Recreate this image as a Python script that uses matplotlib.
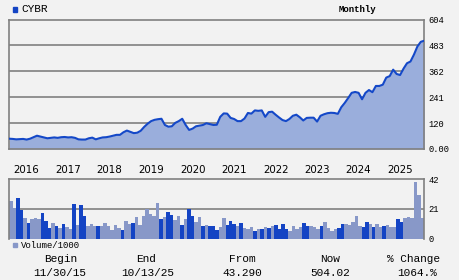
import matplotlib
matplotlib.use("Agg")
import matplotlib.pyplot as plt
from matplotlib.patches import Rectangle

# ---------------- data ----------------
ticker = "CYBR"
price = [48, 47, 45, 46, 47, 44, 48, 55, 62, 58, 54, 50, 52, 54, 52, 55, 56, 54, 55, 52,
         45, 44, 44, 50, 53, 45, 50, 54, 55, 58, 62, 66, 66, 78, 86, 80, 74, 76, 85, 103,
         118, 130, 136, 139, 141, 112, 104, 106, 122, 130, 141, 112, 89, 95, 106, 109, 112, 120, 116, 112,
         113, 150, 166, 165, 145, 140, 130, 130, 142, 168, 165, 180, 178, 180, 150, 172, 174, 160, 147, 135,
         130, 140, 155, 160, 148, 133, 145, 146, 146, 128, 155, 162, 167, 169, 168, 164, 195, 215, 238, 262,
         266, 262, 232, 262, 275, 265, 294, 294, 300, 333, 340, 370, 350, 345, 375, 400, 408, 440, 478, 500,
         505]
volume = [26.7, 21.7, 28.8, 20.3, 14.6, 11.1, 13.9, 14.9, 13.9, 18.2, 12.5, 7.5, 11.1, 9.0, 7.5, 10.4,
          8.3, 6.8, 24.5, 9.7, 23.8, 16.0, 9.0, 10.4, 9.0, 9.0, 9.0, 11.1, 9.0, 6.1, 9.7, 7.5, 6.1,
          12.5, 10.4, 11.1, 15.3, 9.7, 16.0, 21.0, 17.5, 16.0, 25.2, 13.9, 15.3, 18.9, 16.7, 13.2, 16.0,
          9.7, 13.9, 21.0, 16.0, 11.8, 15.3, 9.0, 9.7, 9.0, 9.0, 6.1, 8.3, 14.6, 9.7, 12.5, 10.4, 9.0,
          11.1, 7.5, 6.8, 8.3, 5.4, 6.8, 6.8, 8.3, 7.5, 9.0, 9.7, 6.8, 10.4, 6.8, 5.4, 9.0, 6.8, 8.3,
          11.1, 9.0, 9.0, 8.3, 6.8, 9.0, 11.8, 7.5, 5.4, 6.8, 7.5, 10.4, 10.4, 9.7, 11.8, 16.0, 9.0,
          8.3, 11.8, 10.4, 8.3, 10.4, 8.3, 9.0, 9.7, 8.3, 8.3, 13.9, 11.8, 14.6, 15.3, 14.4, 40.1, 30.9, 14.6]
# d = up month (dark bar), l = down month (light bar)
vol_dir = ("llddldlllddd" "ldldlldldd"
           "lll" "d" "llllll" "d" "ll" "d" "lllllll" "d" "l" "dd" "ll" "d" "l" "dd"
           "ll" "d" "l" "ddd" "ll" "ddd" "l" "d" "lll" "d" "l" "d" "l" "d" "l" "dddd" "llll" "dd"
           "lll" "d" "llll" "dd" "lllll" "dd" "l" "d" "ll" "d" "lll" "dd" "llllll")
year_labels = ["2016", "2017", "2018", "2019", "2020", "2021", "2022", "2023", "2024", "2025"]
year_pos = [5, 17, 29, 41, 53, 65, 77, 89, 101, 113]
price_ticks = [0, 120.8, 241.6, 362.4, 483.2, 604]
price_tick_labels = ["0.00", "120", "241", "362", "483", "604"]
vol_ticks = [0, 21, 42]
vol_tick_labels = ["0", "21", "42"]
summary_heads = ["Begin", "End", "From", "Now", "% Change"]
summary_vals = ["11/30/15", "10/13/25", "43.290", "504.02", "1064.%"]

# ---------------- style ----------------
BG = "#f2f2f2"
GRID = "#808080"
LINE = "#1448c8"
FILL = "#9aaedc"
DARK = "#1444c4"
LIGHT = "#8898c8"
MONO = "Liberation Mono"

W, H = 460, 280
fig = plt.figure(figsize=(W / 100, H / 100), dpi=100, facecolor=BG)


def fx(px):
    return px / W


def fy(py):
    return 1 - py / H


# main price axes
ax = fig.add_axes([fx(9.3), fy(149), fx(415), 129.5 / H])
ax.set_facecolor(BG)
x = list(range(len(price)))
ax.set_xlim(0, len(price) - 1)
ax.set_ylim(0, 604)
for t in price_ticks[1:-1]:
    ax.axhline(t, color=GRID, lw=1.2, zorder=1)
ax.fill_between(x, price, 0, color=FILL, lw=0, zorder=2)
ax.plot(x, price, color=LINE, lw=1.5, zorder=3)
for s in ax.spines.values():
    s.set_color(GRID)
    s.set_linewidth(1.2)
ax.set_xticks([])
ax.yaxis.tick_right()
ax.set_yticks(price_ticks)
ax.set_yticklabels(price_tick_labels, fontfamily=MONO, fontsize=6.3)
ax.tick_params(axis="y", length=0, pad=3)
for lbl, p in zip(year_labels, year_pos):
    ax.text(p, -0.162, lbl, transform=ax.get_xaxis_transform(), ha="center", va="center",
            fontsize=7.4, fontfamily="DejaVu Sans")

# volume axes
vax = fig.add_axes([fx(9.3), fy(238.7), fx(415), 59.4 / H])
vax.set_facecolor(BG)
vax.set_xlim(0, len(volume))
vax.set_ylim(0, 42)
vax.axhline(21, color=GRID, lw=1.2, zorder=1)
colors = [DARK if c == "d" else LIGHT for c in vol_dir]
vax.bar(range(len(volume)), volume, width=1.0, align="edge", color=colors, lw=0, zorder=2)
for k, s in vax.spines.items():
    s.set_color(GRID)
    s.set_linewidth(1.2)
vax.spines["bottom"].set_visible(False)
vax.set_xticks([])
vax.yaxis.tick_right()
vax.set_yticks(vol_ticks)
vax.set_yticklabels(vol_tick_labels, fontfamily=MONO, fontsize=6.3)
vax.tick_params(axis="y", length=0, pad=3)

# header
fig.patches.append(Rectangle((fx(12.7), fy(11.7)), fx(4.6), 4.8 / H, transform=fig.transFigure,
                             color=DARK, figure=fig))
fig.text(fx(21.5), fy(9.2), ticker, fontfamily=MONO, fontsize=8, va="center", ha="left")
fig.text(fx(357), fy(9), "Monthly", fontfamily=MONO, fontsize=6.5, va="center", ha="center",
         fontweight="bold")

# volume legend
fig.patches.append(Rectangle((fx(12.7), fy(247.3)), fx(4.6), 4.6 / H, transform=fig.transFigure,
                             color=LIGHT, figure=fig))
fig.text(fx(20.5), fy(245), "Volume/1000", fontfamily=MONO, fontsize=6.5, va="center", ha="left")

# summary
head_x = [60.5, 146, 242, 330, 414]
val_x = [59.5, 147.5, 242, 330, 417]
for hx, h in zip(head_x, summary_heads):
    fig.text(fx(hx), fy(259), h, fontfamily=MONO, fontsize=8, ha="center", va="center")
for vx, v in zip(val_x, summary_vals):
    fig.text(fx(vx), fy(273), v, fontfamily=MONO, fontsize=8, ha="center", va="center")

fig.savefig("out.png", dpi=100, facecolor=BG)
